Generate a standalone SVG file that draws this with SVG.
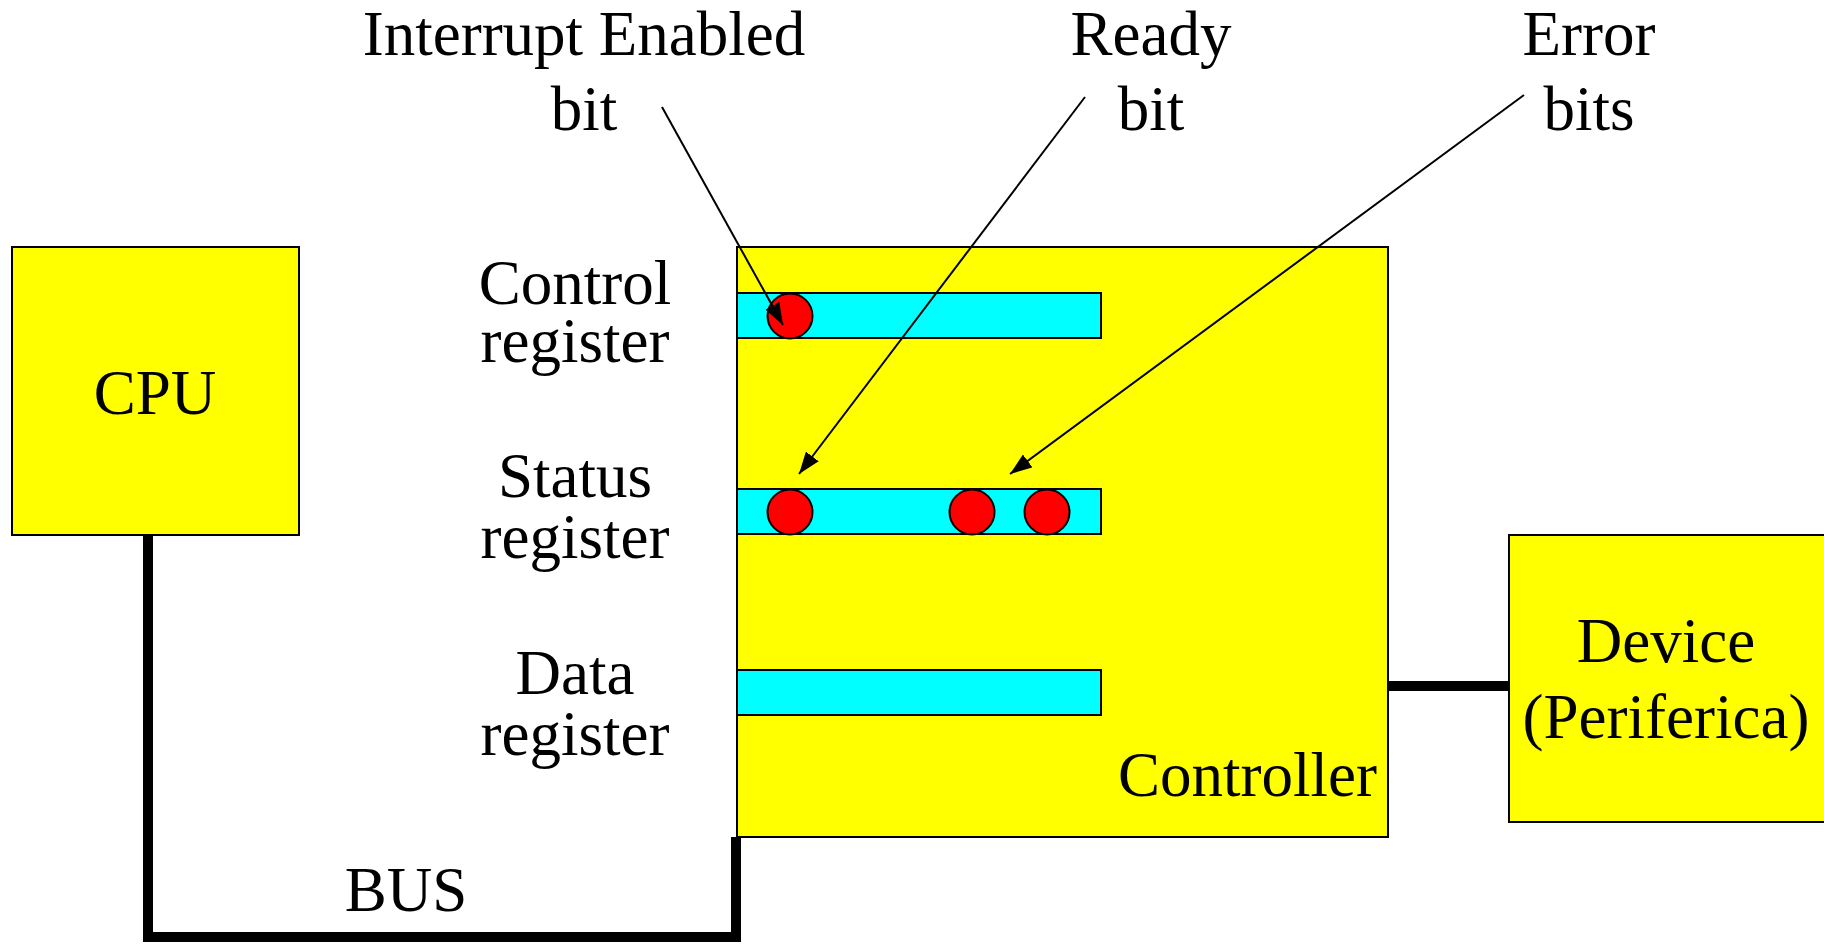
<svg xmlns="http://www.w3.org/2000/svg" width="1824" height="945" viewBox="0 0 1824 945">
  <style>
    .box { fill: #FFFF00; stroke: #000; stroke-width: 2; }
    .reg { fill: #00FFFF; stroke: #000; stroke-width: 2; }
    .bit { fill: #FF0000; stroke: #000; stroke-width: 2; }
    .wire { fill: none; stroke: #000; stroke-width: 10; }
    .ptr { fill: none; stroke: #000; stroke-width: 2; marker-end: url(#head); }
    text { font-family: "Liberation Serif", "Times New Roman", serif; font-size: 63px; fill: #000; }
    .c { text-anchor: middle; }
    .e { text-anchor: end; }
  </style>
  <defs>
    <marker id="head" markerUnits="userSpaceOnUse" markerWidth="22" markerHeight="16" refX="22" refY="8" orient="auto">
      <path d="M0,0 L22,8 L0,16 z" fill="#000"/>
    </marker>
  </defs>

  <rect width="1824" height="945" fill="#fff"/>

  <!-- bus wiring and device link -->
  <g id="connectors">
    <path class="wire" d="M148,535 V937 H736 V837"/>
    <path class="wire" d="M1388,686 H1509"/>
  </g>

  <g id="cpu">
    <rect class="box" x="12" y="247" width="287" height="288"/>
    <text class="c" x="155" y="414">CPU</text>
  </g>

  <g id="bus-label">
    <text class="c" x="406" y="911">BUS</text>
  </g>

  <g id="controller">
    <rect class="box" x="737" y="247" width="651" height="590"/>
    <text class="e" x="1377" y="796">Controller</text>
  </g>

  <g id="control-register">
    <rect class="reg" x="737" y="293" width="364" height="45"/>
    <circle class="bit" cx="790" cy="316" r="22.5"/>
    <text class="c" x="575" y="304">Control</text>
    <text class="c" x="575" y="362">register</text>
  </g>

  <g id="status-register">
    <rect class="reg" x="737" y="489" width="364" height="45"/>
    <circle class="bit" cx="790" cy="512" r="22.5"/>
    <circle class="bit" cx="972" cy="512" r="22.5"/>
    <circle class="bit" cx="1047" cy="512" r="22.5"/>
    <text class="c" x="575" y="497">Status</text>
    <text class="c" x="575" y="558">register</text>
  </g>

  <g id="data-register">
    <rect class="reg" x="737" y="670" width="364" height="45"/>
    <text class="c" x="575" y="694">Data</text>
    <text class="c" x="575" y="755">register</text>
  </g>

  <g id="device">
    <rect class="box" x="1509" y="535" width="317" height="287"/>
    <text class="c" x="1666" y="662">Device</text>
    <text class="c" x="1666" y="738">(Periferica)</text>
  </g>

  <g id="interrupt-label">
    <text class="c" x="584" y="55">Interrupt Enabled</text>
    <text class="c" x="584" y="130">bit</text>
  </g>

  <g id="ready-label">
    <text class="c" x="1151" y="55">Ready</text>
    <text class="c" x="1151" y="130">bit</text>
  </g>

  <g id="error-label">
    <text class="c" x="1589" y="55">Error</text>
    <text class="c" x="1589" y="130">bits</text>
  </g>

  <!-- pointers from labels to bits -->
  <g id="pointers">
    <line class="ptr" x1="662" y1="107" x2="783" y2="325"/>
    <line class="ptr" x1="1085" y1="97" x2="799" y2="474"/>
    <line class="ptr" x1="1524" y1="95" x2="1010" y2="474"/>
  </g>
</svg>
